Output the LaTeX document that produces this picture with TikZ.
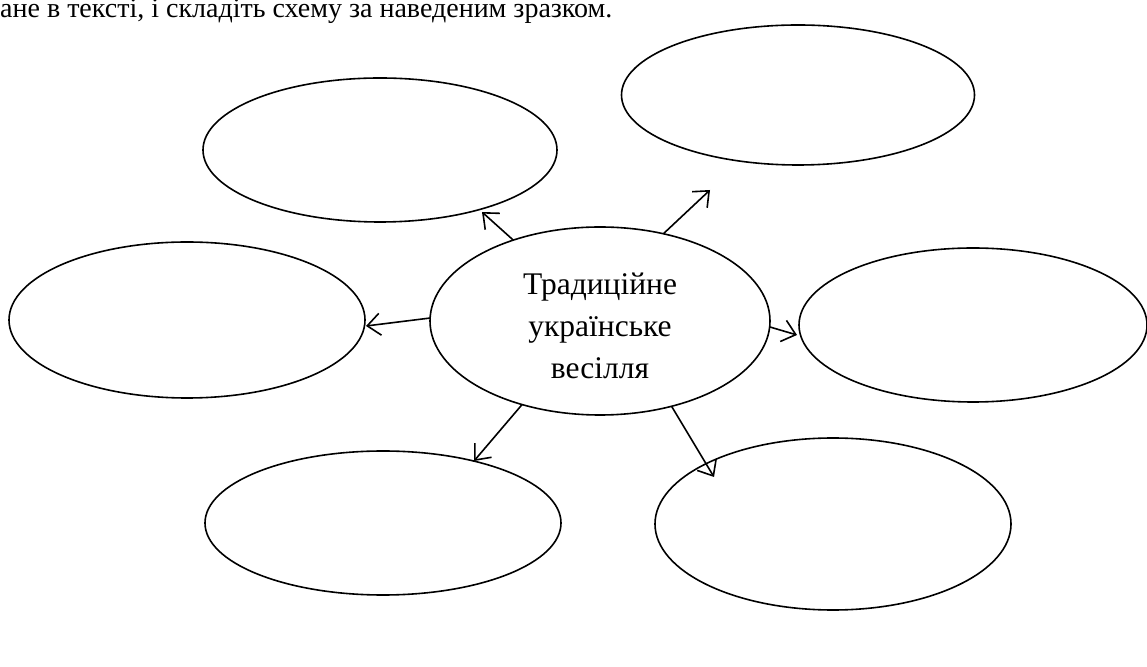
\documentclass[tikz,border=0pt]{standalone}
\usepackage{fontspec}
\setmainfont{Liberation Serif}
\usetikzlibrary{shapes.geometric,arrows.meta}
\begin{document}
\begin{tikzpicture}[x=1pt,y=1pt,
  oval/.style={ellipse,draw,line width=1.6pt,inner sep=0pt,outer sep=0pt},
  link/.style={line width=1.6pt,-{Straight Barb[length=13pt,width=22pt,line width=1.6pt]}}]
\useasboundingbox (0,0) rectangle (1147,666);
\node[anchor=base west,inner sep=0pt,font=\fontsize{28}{32}\selectfont] (hdr) at (0,648) {ане в тексті, і складіть схему за наведеним зразком.};
\node[oval,minimum width=354pt,minimum height=144pt] (tl) at (380,516) {};
\node[oval,minimum width=353pt,minimum height=140pt] (tr) at (798,571) {};
\node[oval,minimum width=356pt,minimum height=156pt] (l) at (187,346) {};
\node[oval,minimum width=340pt,minimum height=188pt] (c) at (600,345) {};
\node[align=center,inner sep=0pt,font=\fontsize{31.5}{42}\selectfont] (ctxt) at ([yshift=-5pt]c.center) {Традиційне\\українське\\весілля};
\node[oval,minimum width=348pt,minimum height=154pt] (r) at (973,341) {};
\node[oval,minimum width=356pt,minimum height=144pt] (bl) at (383,143) {};
\node[oval,minimum width=356pt,minimum height=172pt] (br) at (833,142) {};
\coordinate (ptl) at (482,454);
\coordinate (ptr) at (710,476);
\coordinate (pl) at (366,340);
\coordinate (pr) at (797,331);
\coordinate (pbl) at (474,205);
\coordinate (pbr) at (714,189);
\draw[link] (c.137) -- (ptl);
\draw[link] (c.54) -- (ptr);
\draw[link] (c.179.3) -- (pl);
\draw[link] (c.-2.8) -- (pr);
\draw[link] (c.227.6) -- (pbl);
\draw[link] (c.-50) -- (pbr);
\end{tikzpicture}
\end{document}
